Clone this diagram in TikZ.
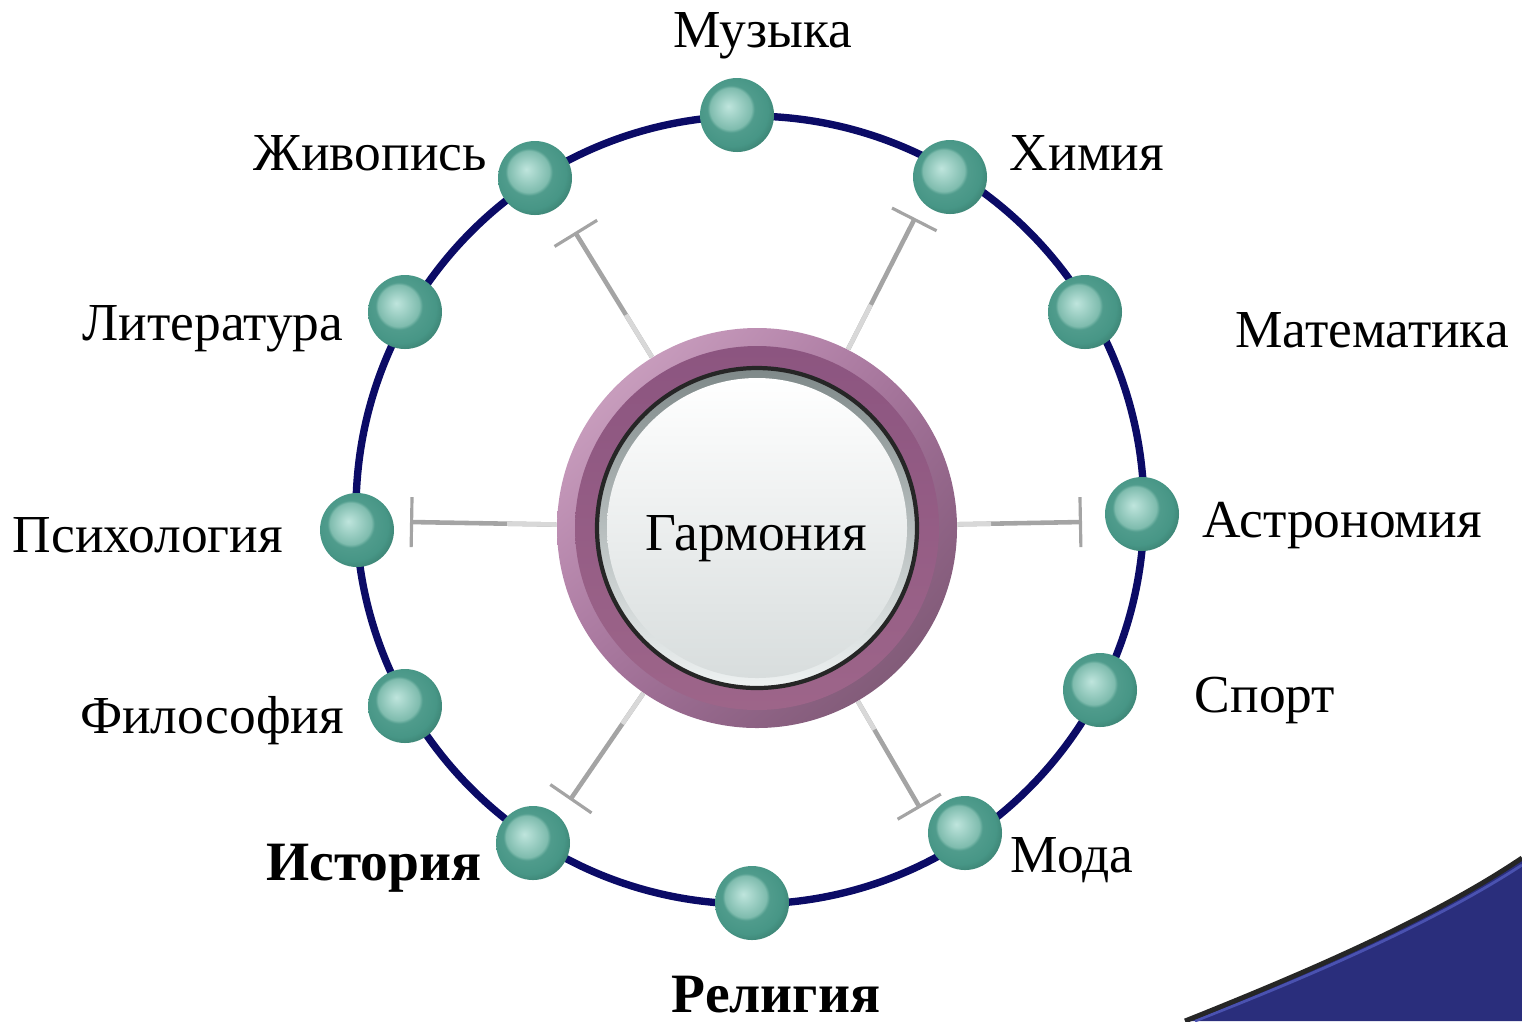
\documentclass[tikz,border=0pt]{standalone}
\usepackage{fontspec}
\setmainfont{Liberation Serif}
\usepackage{tikz}
\usetikzlibrary{arrows.meta,shadings,calc}
\definecolor{armCirculo}{HTML}{0b0b66}
\definecolor{armBolaBrillo}{HTML}{bfe5dd}
\definecolor{armBolaClara}{HTML}{7fbcae}
\definecolor{armBola}{HTML}{479686}
\definecolor{armBolaOscura}{HTML}{357667}
\definecolor{armAroClaro}{HTML}{d6aecb}
\definecolor{armAroMedio}{HTML}{a4709a}
\definecolor{armAroOscuro}{HTML}{74526b}
\definecolor{armBanda}{HTML}{8c5580}
\definecolor{armGrisOsc}{HTML}{7f8989}
\definecolor{armGrisClaro}{HTML}{eef2f2}
\definecolor{armEnlace}{HTML}{a4a4a4}
\definecolor{armEnlaceClaro}{HTML}{d8d8d8}
\definecolor{armAzul}{HTML}{2a2e7c}
\definecolor{armAzulBorde}{HTML}{4a52b0}

\pgfdeclareradialshading{esfera}{\pgfpoint{-6bp}{6bp}}{%
  color(0bp)=(armBolaBrillo); color(14bp)=(armBolaClara); color(16bp)=(armBola!85!armBolaClara);
  color(24bp)=(armBola); color(33bp)=(armBolaOscura); color(50bp)=(armBolaOscura)}

\begin{document}
\begin{tikzpicture}[
  bola/.style={circle, minimum size=7.4mm, inner sep=0pt, shading=esfera},
  etiqueta/.style={font=\fontsize{15.2}{17}\selectfont, anchor=base, inner sep=0pt},
  enlace/.style={draw=armEnlace, line width=1.3pt, -{Bar[width=5mm, line width=0.9pt]}},
  enlaceClaro/.style={draw=armEnlaceClaro, line width=1.3pt},
]
  \useasboundingbox (0,0) rectangle (15.22,-10.21);

  % Esquina azul inferior
  \fill[armAzul] (11.85,-10.21) .. controls (13.0,-9.75) and (14.3,-9.20) .. (15.22,-8.58)
    -- (15.22,-10.21) -- cycle;
  \draw[armAzulBorde, line width=0.8pt]
    (11.95,-10.21) .. controls (13.05,-9.78) and (14.3,-9.25) .. (15.22,-8.65);
  \draw[black!85, line width=1.4pt]
    (11.85,-10.21) .. controls (13.0,-9.75) and (14.3,-9.20) .. (15.22,-8.58);

  % Circulo exterior
  \draw[armCirculo, line width=2.1pt] (7.50,-5.10) circle (3.94);

  % Nodo central y extremos de los enlaces
  \node[circle, minimum size=4cm, inner sep=0pt] (harm) at (7.57,-5.28) {};
  \coordinate (cUL) at (5.75,-2.32);
  \coordinate (cUR) at (9.15,-2.18);
  \coordinate (cL)  at (4.10,-5.22);
  \coordinate (cR)  at (10.82,-5.22);
  \coordinate (cDL) at (5.70,-8.00);
  \coordinate (cDR) at (9.20,-8.08);
  \foreach \c in {cUL,cUR,cL,cR,cDL,cDR} {
    \draw[enlace] (harm) -- (\c);
    \draw[enlaceClaro] (harm) -- ($(harm)!0.72!(\c)$);
  }

  % Aro morado
  \shade[upper left=armAroClaro, upper right=armAroMedio, lower left=armAroMedio, lower right=armAroOscuro]
    (harm.center) circle (2.0);
  \shade[top color=armBanda, bottom color=armBanda!85!pink] (harm.center) circle (1.82);
  \shade[top color=armGrisOsc, bottom color=armGrisClaro, draw=black!85, line width=1.2pt]
    (harm.center) circle (1.60);
  \shade[top color=white, bottom color=armGrisClaro!80!armGrisOsc] (harm.center) circle (1.50);
  \node[font=\fontsize{15.2}{17}\selectfont, anchor=base] (gar) at (7.56,-5.50) {Гармония};

  % Bolas sobre el circulo
  \foreach \n/\x/\y in {mus/7.37/-1.15, qui/9.50/-1.77, mat/10.85/-3.12, ast/11.42/-5.14,
      dep/11.00/-6.90, mod/9.65/-8.33, rel/7.52/-9.03, his/5.33/-8.43,
      fil/4.05/-7.06, psi/3.57/-5.30, lit/4.05/-3.12, pin/5.35/-1.78}
    \node[bola] (b\n) at (\x,\y) {};

  % Etiquetas
  \node[etiqueta] (tmus) at (7.63,-0.47) {Музыка};
  \node[etiqueta] (tqui) at (10.87,-1.70) {Химия};
  \node[etiqueta] (tmat) at (13.72,-3.47) {Математика};
  \node[etiqueta] (tast) at (13.42,-5.37) {Астрономия};
  \node[etiqueta] (tdep) at (12.65,-7.12) {Спорт};
  \node[etiqueta] (tmod) at (10.72,-8.72) {Мода};
  \node[etiqueta, font=\fontsize{15.8}{17}\selectfont\bfseries] (trel) at (7.76,-10.12) {Религия};
  \node[etiqueta, font=\fontsize{15.8}{17}\selectfont\bfseries] (this) at (3.74,-8.80) {История};
  \node[etiqueta] (tfil) at (2.12,-7.33) {Философия};
  \node[etiqueta] (tpsi) at (1.48,-5.52) {Психология};
  \node[etiqueta] (tlit) at (2.13,-3.40) {Литература};
  \node[etiqueta] (tpin) at (3.70,-1.70) {Живопись};
\end{tikzpicture}
\end{document}
